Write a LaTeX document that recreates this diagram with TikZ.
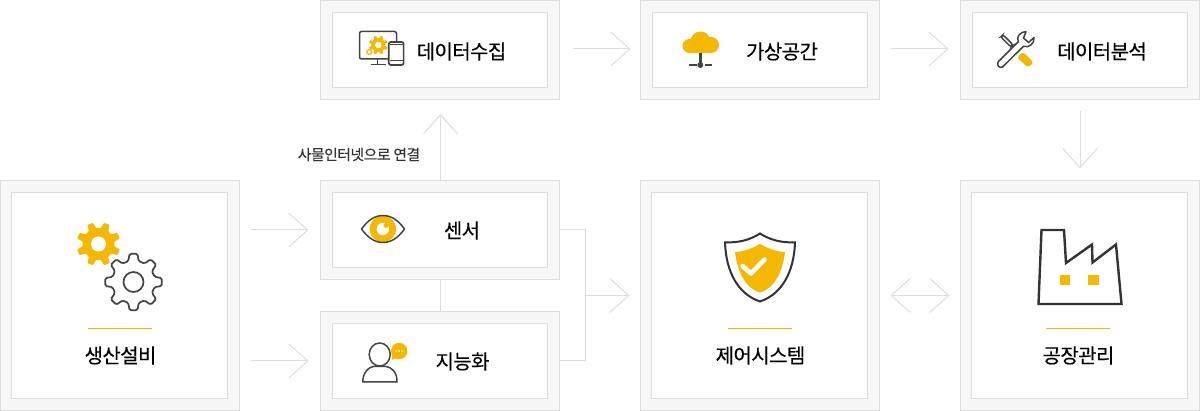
\documentclass[tikz,border=0pt]{standalone}
\usepackage{fontspec}
\setmainfont[LetterSpace=-3,FakeBold=0.25]{Noto Sans CJK KR}
\usetikzlibrary{arrows.meta}

\definecolor{boxline}{HTML}{DDDDDD}
\definecolor{boxfill}{HTML}{F7F7F7}
\definecolor{amber}{HTML}{F4B800}
\definecolor{iconline}{HTML}{444444}

% teeth of a gear: first tooth, tip radius, root radius
\newcommand{\gearteeth}[3]{
  ({#1-14}:#3) \foreach \k in {0,...,7} {
    -- ({#1+45*\k-14}:#3) -- ({#1+45*\k-8}:#2) -- ({#1+45*\k+8}:#2) -- ({#1+45*\k+14}:#3)
  } -- cycle
}

\tikzset{
  outerbox/.style={draw=boxline,fill=boxfill,line width=1pt,inner sep=0pt,outer sep=0pt,minimum width=239pt},
  innerbox/.style={draw=boxline,fill=white,line width=1pt,inner sep=0pt,outer sep=0pt},
  boxtext/.style={inner sep=0pt,font=\fontsize{20}{22}\selectfont},
  flowline/.style={draw=boxline,line width=1pt},
  flowarrow/.style={flowline,-{Straight Barb[length=19pt,width=34pt]}},
  flowboth/.style={flowline,{Straight Barb[length=19pt,width=34pt]}-{Straight Barb[length=19pt,width=34pt]}},
  iconstroke/.style={draw=iconline,line width=1.5pt},
  rulemark/.style={draw=amber,line width=1pt}
}

\begin{document}
\begin{tikzpicture}[x=1pt,y=-1pt]
  \useasboundingbox (0,0) rectangle (1200,411);

  % outer boxes
  \node[outerbox,minimum height=99pt] (collect) at (440,50) {};
  \node[outerbox,minimum height=99pt] (virtual) at (760,50) {};
  \node[outerbox,minimum height=99pt] (analysis) at (1080,50) {};
  \node[outerbox,minimum height=230pt] (plant) at (120,295.5) {};
  \node[outerbox,minimum height=99pt] (sensor) at (440,230) {};
  \node[outerbox,minimum height=99pt] (smart) at (440,361) {};
  \node[outerbox,minimum height=230pt] (control) at (760,295.5) {};
  \node[outerbox,minimum height=230pt] (factory) at (1080,295.5) {};

  % inner boxes
  \node[innerbox,minimum width=215pt,minimum height=75pt] (collectin) at (440,50) {};
  \node[innerbox,minimum width=215pt,minimum height=75pt] (virtualin) at (760,50) {};
  \node[innerbox,minimum width=215pt,minimum height=75pt] (analysisin) at (1080,50) {};
  \node[innerbox,minimum width=216pt,minimum height=206pt] (plantin) at (119.5,295.5) {};
  \node[innerbox,minimum width=215pt,minimum height=75pt] (sensorin) at (440,230) {};
  \node[innerbox,minimum width=215pt,minimum height=75pt] (smartin) at (440,361) {};
  \node[innerbox,minimum width=216pt,minimum height=206pt] (controlin) at (759.5,295.5) {};
  \node[innerbox,minimum width=216pt,minimum height=206pt] (factoryin) at (1079.5,295.5) {};

  % labels
  \node[boxtext] (collecttxt) at (461.5,51.5) {데이터수집};
  \node[boxtext] (virtualtxt) at (782,51.5) {가상공간};
  \node[boxtext] (analysistxt) at (1102,51.5) {데이터분석};
  \node[boxtext] (planttxt) at (120.5,355.5) {생산설비};
  \node[boxtext] (sensortxt) at (462,230.5) {센서};
  \node[boxtext] (smarttxt) at (462.5,361.5) {지능화};
  \node[boxtext] (controltxt) at (760.5,355.5) {제어시스템};
  \node[boxtext] (factorytxt) at (1078.5,355.5) {공장관리};
  \node[inner sep=0pt,text=black!80,font=\fontsize{14.8}{16}\selectfont] (iottxt) at (359,154.5) {사물인터넷으로 연결};

  % connectors
  \coordinate (join) at (585.5,295.5);
  \draw[flowarrow,shorten <=11pt,shorten >=12pt] (plant.east |- sensor.west) -- (sensor.west);
  \draw[flowarrow,shorten <=11pt,shorten >=12pt] (plant.east |- smart.west) -- (smart.west);
  \draw[flowarrow,shorten >=14.5pt] ([xshift=.5pt]sensor.north) -- ([xshift=.5pt]collect.south);
  \draw[flowline] ([xshift=.5pt]sensor.south) -- ([xshift=.5pt]smart.north);
  \draw[flowarrow,shorten <=13pt,shorten >=10pt] ([yshift=1pt]collect.east) -- ([yshift=1pt]virtual.west);
  \draw[flowarrow,shorten <=11pt,shorten >=12pt] ([yshift=1pt]virtual.east) -- ([yshift=1pt]analysis.west);
  \draw[flowarrow,shorten <=11.5pt,shorten >=12pt] (analysis.south) -- (factory.north);
  \draw[flowline] (sensor.east) -| (join) |- (smart.east);
  \draw[flowarrow,shorten >=11pt] (join) -- (join -| control.west);
  \draw[flowboth,shorten <=11pt,shorten >=11pt] (control.east) -- (factory.west);

  % yellow rules
  \draw[rulemark] (88,328.5) -- (152,328.5);
  \draw[rulemark] (728,328.5) -- (792,328.5);
  \draw[rulemark] (1046,328.5) -- (1110,328.5);

  % gears
  \begin{scope}[shift={(98.5,244)}]
    \fill[amber,rounded corners=1pt] \gearteeth{22.5}{22}{16};
    \fill[white] (0,0) circle (7.5);
  \end{scope}
  \begin{scope}[shift={(133.5,282)}]
    \filldraw[fill=white,draw=iconline,line width=1.7pt,rounded corners=1.5pt] \gearteeth{0}{28.5}{21.5};
    \draw[iconline,line width=1.7pt] (0,0) circle (10);
  \end{scope}

  % monitor and phone
  \draw[iconstroke,rounded corners=2pt] (359.5,31.5) rectangle (396.5,59);
  \draw[iconstroke] (377.7,59) -- (377.7,64) (370.5,64.3) -- (385.5,64.3);
  \begin{scope}[shift={(378.3,45)}]
    \fill[amber,rounded corners=.5pt] \gearteeth{22.5}{9.5}{7};
    \fill[white] (0,0) circle (3.2);
  \end{scope}
  \draw[amber,line width=1.3pt] (369.3,52) circle (2.4);
  \filldraw[fill=white,draw=iconline,line width=1.7pt,rounded corners=2pt] (388.8,42) rectangle (403.6,65);
  \draw[iconline,line width=1pt] (390,45) -- (402.5,45) (390,61) -- (402.5,61);

  % cloud
  \fill[amber] (700.5,41.5) circle (10) (689.5,46) circle (7) (711,45) circle (8);
  \fill[amber] (689.5,44) rectangle (711,53);
  \draw[iconline,line width=2.6pt] (700.3,53) -- (700.3,64);
  \draw[iconline,line width=2.4pt] (689,65) -- (696.5,65) (704.5,65) -- (712,65);
  \fill[iconline] (700.3,65) circle (3);

  % tools
  \draw[iconstroke,line cap=round,rounded corners=2.2pt] (1000.8,37) -- (1003,34.8) -- (1013,44.8) -- (1010.8,47) -- cycle;
  \draw[iconstroke] (1012,46) -- (1016.5,50.5);
  \fill[amber,rounded corners=2.5pt] (1023,52) -- (1033.5,62.5) -- (1028,67.5) -- (1017,57.5) -- cycle;
  \draw[iconstroke,line join=round,fill=white]
    (1026,31.7) .. controls (1019,32) and (1016,38) .. (1018.5,41.5)
    -- (998,62) .. controls (996.5,65.5) and (999.5,68.5) .. (1002.5,67)
    -- (1023.5,46.3) .. controls (1029,48.5) and (1035,43) .. (1034,37.5)
    -- (1028.5,42.5) -- (1023.5,38) -- cycle;

  % eye
  \fill[amber] (382.8,229) circle (13.2);
  \fill[white] (382.8,229) circle (6.2);
  \fill[amber] (386,225.5) circle (2.4);
  \draw[iconstroke,line join=round] (361.5,229) .. controls (368,220) and (375,215.5) .. (383,215.5)
    .. controls (391,215.5) and (398,220) .. (404.5,229)
    .. controls (398,238) and (391,242.5) .. (383,242.5)
    .. controls (375,242.5) and (368,238) .. (361.5,229) -- cycle;

  % person with speech bubble
  \draw[iconstroke] (379.7,354.5) ellipse (10.5 and 11.5);
  \draw[iconstroke] (362.8,382) .. controls (362.5,372) and (370,366.5) .. (373.5,366.5)
    -- (386,366.5) .. controls (390.5,366.5) and (397.5,372) .. (397,382) -- cycle;
  \fill[amber] (399.2,351) circle (8.2);
  \fill[amber] (392,353) -- (396,358) -- (391.5,360) .. controls (392.5,358) and (392.5,355) .. (392,353) -- cycle;
  \fill[white] (396,351) circle (.8) (399,351) circle (.8) (402,351) circle (.8);

  % shield
  \draw[draw=black!80,line width=2pt,line join=miter] (760,233.5) .. controls (750,240) and (738,243) .. (725,242.3)
    .. controls (726,272) and (738,294) .. (760,301.5)
    .. controls (782,294) and (794,272) .. (795,242.3)
    .. controls (782,243) and (770,240) .. (760,233.5) -- cycle;
  \fill[amber] (760,244) .. controls (752,248.5) and (744,251.5) .. (735,252.3)
    .. controls (738,274) and (746,288) .. (760,292.7)
    .. controls (774,288) and (782,274) .. (785,252.3)
    .. controls (776,251.5) and (768,248.5) .. (760,244) -- cycle;
  \draw[white,line width=4.6pt,line cap=round,line join=round] (742.5,266) -- (751,273.5) -- (764.5,259.5);

  % factory
  \draw[draw=black!80,line width=2.4pt,line join=miter] (1041.5,230) -- (1064,230) -- (1066,263)
    -- (1092,244.5) -- (1092.5,262.5) -- (1116,244.5) -- (1121.5,304) -- (1038.5,304) -- cycle;
  \fill[amber] (1060,275) rectangle (1070,285);
  \fill[amber] (1088,275) rectangle (1098.5,285);
\end{tikzpicture}
\end{document}
